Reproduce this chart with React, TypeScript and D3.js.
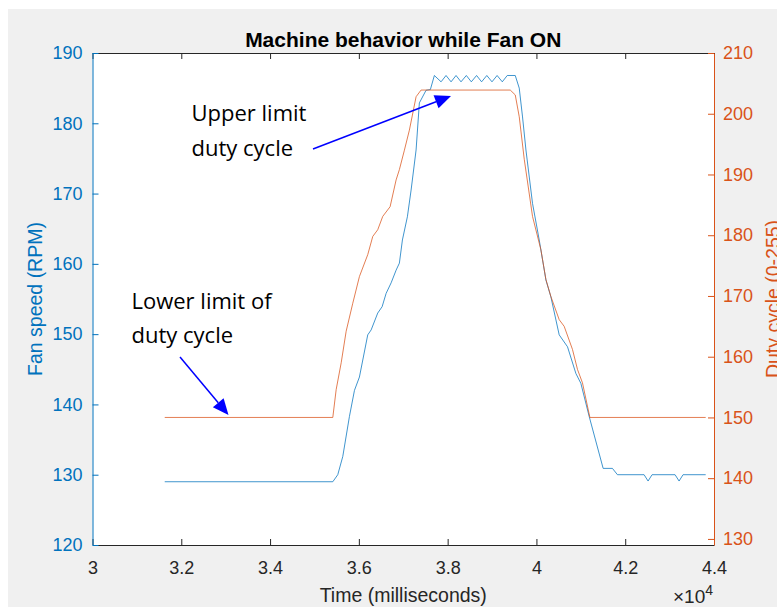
import React, { useRef, useEffect } from 'react';
import * as d3 from 'd3';

// Fan speed (left axis, RPM)
const fanTime = [
  31627, 35413, 35525, 35638, 35788, 35901, 36013, 36200, 36277, 36425, 36524, 36614,
  36727, 36839, 36913, 36981, 37093, 37177, 37289, 37363, 37514, 37611,
  37701, 37852, 37964, 38077, 38189, 38301, 38421, 38533, 38652, 38765, 38882, 38999,
  39114, 39231, 39343, 39523, 39613, 39687, 39764, 39912, 40063, 40214, 40326, 40513,
  40700, 40889, 41001, 41188, 41503, 41712, 41825, 42425, 42515, 42605, 43123, 43213,
  43303, 43813,
];
const fanRpm = [
  129.0, 129.0, 130.0, 132.6, 138.3, 142.0, 143.9, 149.9, 150.6, 153.0, 153.9, 155.8,
  157.3, 159.1, 160.1, 163.4, 166.7, 170.5, 176.2, 182.9, 184.7, 184.8,
  186.8, 185.9, 186.8, 185.9, 186.8, 185.9, 186.8, 185.9, 186.8, 185.9, 186.8, 185.9,
  186.8, 185.9, 186.8, 186.8, 185.0, 180.9, 176.2, 168.6, 163.4, 157.7, 155.3, 149.9,
  148.2, 144.4, 143.0, 138.3, 130.9, 130.9, 130.0, 130.0, 129.1, 130.0, 130.0, 129.1,
  130.0, 130.0,
];

// Duty cycle (right axis, 0-255)
const dutyTime = [
  31627, 35413, 35489, 35602, 35714, 35863, 36013, 36200, 36313, 36425, 36538, 36704,
  36839, 36913, 37026, 37138, 37289, 37401, 39410, 39523, 39613, 39726, 39912, 40101,
  40214, 40326, 40513, 40625, 40812, 40925, 41037, 41204, 43813,
];
const dutyValue = [
  150.0, 150.0, 154.6, 159.0, 164.2, 168.8, 173.2, 176.8, 179.8, 180.9, 183.1, 184.7,
  189.1, 190.8, 194.0, 197.3, 202.8, 203.9, 203.9, 203.1, 199.5, 192.5, 183.1, 177.6,
  172.7, 169.9, 166.1, 165.0, 161.2, 157.9, 155.7, 150.0, 150.0,
];

const xTicks = [30000, 32000, 34000, 36000, 38000, 40000, 42000, 44000];
const leftTicks = [120, 130, 140, 150, 160, 170, 180, 190];
const rightTicks = [130, 140, 150, 160, 170, 180, 190, 200, 210];

const BLUE = '#0072BD';
const ORANGE = '#D95319';
const DARK = '#262626';
const FONT = '"Liberation Sans", Arial, Helvetica, sans-serif';
const NOTE_FONT = '"Open Sans", "Noto Sans", sans-serif';

function App() {
  const svgRef = useRef<SVGSVGElement>(null);

  useEffect(() => {
    const svg = d3.select(svgRef.current);
    svg.selectAll('*').remove();

    const width = 777;
    const height = 607;
    const left = 92.5, right = 714, top = 53, bottom = 545;

    svg.attr('width', width).attr('height', height);

    // figure background + axes background
    svg.append('rect').attr('x', 8).attr('y', 9).attr('width', width).attr('height', height)
      .attr('fill', '#f0f0f0');
    svg.append('rect').attr('x', left).attr('y', top).attr('width', right - left)
      .attr('height', bottom - top).attr('fill', '#fff');

    const x = d3.scaleLinear().domain([30000, 44000]).range([left, right]);
    const yL = d3.scaleLinear().domain([120, 190]).range([bottom, top]);
    const yR = d3.scaleLinear().domain([129, 210]).range([bottom, top]);

    const styleAxis = (g, color, size) => {
      g.select('.domain').attr('stroke', color).attr('stroke-width', 1);
      g.selectAll('.tick line').attr('stroke', color);
      g.selectAll('.tick text').attr('fill', color).style('font-size', size + 'px')
        .style('font-family', FONT);
    };

    // Bottom axis
    const gx = svg.append('g').attr('transform', `translate(0,${bottom})`)
      .call(d3.axisBottom(x).tickValues(xTicks).tickSize(-6).tickSizeOuter(0).tickPadding(16)
        .tickFormat(d => (d / 10000).toFixed(1).replace('.0', '')));
    styleAxis(gx, DARK, 18);

    // Top axis (ticks only)
    const gt = svg.append('g').attr('transform', `translate(0,${top})`)
      .call(d3.axisTop(x).tickValues(xTicks).tickSize(-6).tickSizeOuter(0).tickFormat(() => ''));
    styleAxis(gt, DARK, 18);

    // Left axis
    const gl = svg.append('g').attr('transform', `translate(${left},0)`)
      .call(d3.axisLeft(yL).tickValues(leftTicks).tickSize(-6).tickSizeOuter(0).tickPadding(10));
    styleAxis(gl, BLUE, 18);

    // Right axis
    const gr = svg.append('g').attr('transform', `translate(${right},0)`)
      .call(d3.axisRight(yR).tickValues(rightTicks).tickSize(-6).tickSizeOuter(0).tickPadding(9));
    styleAxis(gr, ORANGE, 18);

    // Lines
    const fanLine = d3.line<number>().x(i => x(fanTime[i])).y(i => yL(fanRpm[i]));
    const dutyLine = d3.line<number>().x(i => x(dutyTime[i])).y(i => yR(dutyValue[i]));

    svg.append('path').attr('d', fanLine(d3.range(fanTime.length)))
      .attr('fill', 'none').attr('stroke', BLUE).attr('stroke-width', 1).attr('opacity', 0.75);
    svg.append('path').attr('d', dutyLine(d3.range(dutyTime.length)))
      .attr('fill', 'none').attr('stroke', ORANGE).attr('stroke-width', 1).attr('opacity', 0.75);

    // Title
    svg.append('text').attr('x', (left + right) / 2).attr('y', 46.5).attr('text-anchor', 'middle')
      .style('font-family', FONT).style('font-size', '21px').style('font-weight', 'bold')
      .attr('fill', '#000').text('Machine behavior while Fan ON');

    // Axis labels
    svg.append('text').attr('x', (left + right) / 2).attr('y', 601.5).attr('text-anchor', 'middle')
      .style('font-family', FONT).style('font-size', '19.5px').attr('fill', DARK)
      .text('Time (milliseconds)');
    svg.append('text').attr('transform', `translate(42,299) rotate(-90)`).attr('text-anchor', 'middle')
      .style('font-family', FONT).style('font-size', '19.5px').attr('fill', BLUE)
      .text('Fan speed (RPM)');
    svg.append('text').attr('transform', `translate(780,299) rotate(-90)`).attr('text-anchor', 'middle')
      .style('font-family', FONT).style('font-size', '19.5px').attr('fill', ORANGE)
      .text('Duty cycle (0-255)');

    // x10^4 exponent
    const ex = svg.append('text').attr('x', right - 1).attr('y', 603).attr('text-anchor', 'end')
      .style('font-family', FONT).attr('fill', DARK);
    ex.append('tspan').style('font-size', '19px').text('\u00d710');
    ex.append('tspan').style('font-size', '14px').attr('dy', -8).text('4');

    // Annotations
    const notes = [
      { text: 'Upper limit', x: 191.5, y: 120.5 },
      { text: 'duty cycle', x: 191.5, y: 155.5 },
      { text: 'Lower limit of', x: 131.5, y: 308.5 },
      { text: 'duty cycle', x: 131.5, y: 342.5 },
    ];
    notes.forEach(n => {
      svg.append('text').attr('x', n.x).attr('y', n.y)
        .style('font-family', NOTE_FONT).style('font-size', '22px').attr('fill', '#000')
        .text(n.text);
    });

    // Arrows
    const arrow = (x1, y1, x2, y2) => {
      const ang = Math.atan2(y2 - y1, x2 - x1);
      const len = 16, half = 7;
      const bx = x2 - len * Math.cos(ang), by = y2 - len * Math.sin(ang);
      svg.append('line').attr('x1', x1).attr('y1', y1).attr('x2', bx).attr('y2', by)
        .attr('stroke', '#0000ff').attr('stroke-width', 1.5);
      const px = -Math.sin(ang) * half, py = Math.cos(ang) * half;
      svg.append('path')
        .attr('d', `M${x2},${y2}L${bx + px},${by + py}L${bx - px},${by - py}Z`)
        .attr('fill', '#0000ff');
    };
    arrow(313, 149, 451, 96);
    arrow(180, 357, 228.5, 415);
  }, []);

  return (
    <svg ref={svgRef} style={{ position: 'absolute', left: 0, top: 0, display: 'block' }}></svg>
  );
}

export default App;
